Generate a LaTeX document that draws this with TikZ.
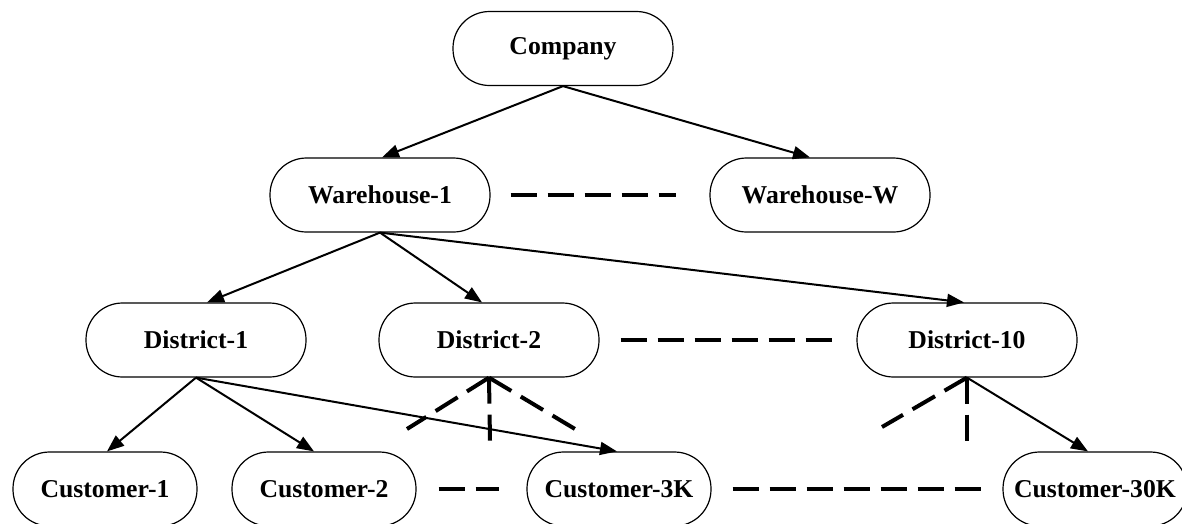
\documentclass[tikz,border=0pt]{standalone}
\usepackage{fontspec}
\setmainfont{Liberation Serif}
\usetikzlibrary{arrows.meta}
\begin{document}
\begin{tikzpicture}[x=1pt,y=-1pt,
  box/.style={draw,line width=1.2pt,rounded corners=36.5pt,minimum width=220pt,
    minimum height=74pt,inner sep=0pt,font=\fontsize{25.7}{30}\selectfont\bfseries},
  cbox/.style={box,minimum width=184pt},
  link/.style={line width=2pt,-{Triangle[length=17pt,width=13pt]}},
  gap/.style={line width=4pt,dash pattern=on 26pt off 11pt}]
\useasboundingbox (0,0) rectangle (1182,523);

% hierarchy levels
\node[box] (co) at (563,48.5) {Company};
\node[box] (w1) at (380,195) {Warehouse-1};
\node[box] (ww) at (820,195) {Warehouse-W};
\node[box] (d1) at (196,340) {District-1};
\node[box] (d2) at (489,340) {District-2};
\node[box] (d10) at (967,340) {District-10};
\node[cbox] (c1) at (105,489) {Customer-1};
\node[cbox] (c2) at (324,489) {Customer-2};
\node[cbox] (c3) at (619,489) {Customer-3K};
\node[cbox] (c30) at (1095,489) {Customer-30K};

% parent-child links
\draw[link] (co.south) -- ([xshift=2pt]w1.north);
\draw[link] (co.south) -- ([xshift=-10pt]ww.north);
\draw[link] (w1.south) -- ([xshift=11pt]d1.north);
\draw[link] (w1.south) -- ([xshift=-7pt]d2.north);
\draw[link] (w1.south) -- ([xshift=-3pt]d10.north);
\draw[link] (d1.south) -- ([xshift=2pt]c1.north);
\draw[link] (d1.south) -- ([xshift=-10pt]c2.north);
\draw[link] (d1.south) -- ([xshift=-2pt]c3.north);
\draw[link] (d10.south) -- ([xshift=-7pt]c30.north);

% elided siblings
\draw[gap] ([xshift=20pt]w1.east) -- ([xshift=-33pt]ww.west);
\draw[gap] ([xshift=21pt]d2.east) -- ([xshift=-22pt]d10.west);
\draw[gap] ([xshift=22pt]c2.east) -- ([xshift=-27pt]c3.west);
\draw[gap] ([xshift=21pt]c3.east) -- ([xshift=-21pt]c30.west);

% elided children of District-2 and District-10
\coordinate (t2l) at (407,429);
\coordinate (t2m) at (490,441);
\coordinate (t2r) at (575,429);
\coordinate (t10l) at (882,427);
\coordinate (t10m) at (967,441);
\draw[gap] (d2.south) -- (t2l);
\draw[gap] (d2.south) -- (t2m);
\draw[gap] (d2.south) -- (t2r);
\draw[gap] (d10.south) -- (t10l);
\draw[gap] (d10.south) -- (t10m);
\end{tikzpicture}
\end{document}
